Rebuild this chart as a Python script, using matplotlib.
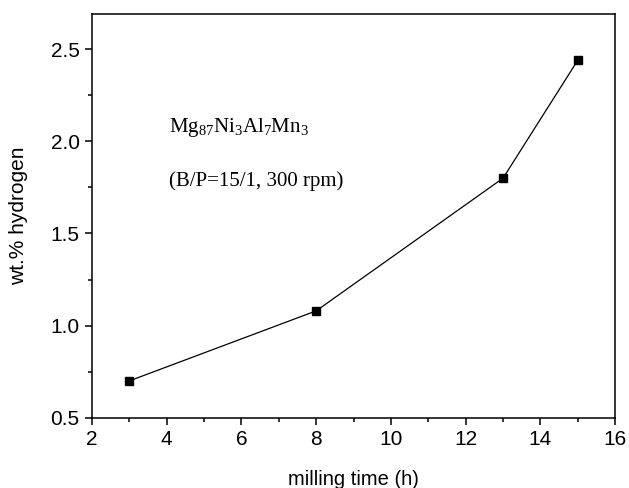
import matplotlib
matplotlib.use("Agg")
import matplotlib.pyplot as plt
from matplotlib.ticker import MultipleLocator

milling_time = [3, 8, 13, 15]
wt_hydrogen = [0.70, 1.08, 1.80, 2.44]

plt.rcParams['font.family'] = ['Liberation Sans', 'DejaVu Sans']
plt.rcParams['mathtext.fontset'] = 'custom'
plt.rcParams['mathtext.rm'] = 'Liberation Serif'

fig = plt.figure(figsize=(6.29, 4.88), dpi=100)
ax = fig.add_axes([0.1463, 0.144, 0.8317, 0.827])

ax.plot(milling_time, wt_hydrogen, color='black', lw=0.9, marker='s', ms=6,
        mfc='black', mec='black')

ax.set_xlim(2, 16)
ax.set_ylim(0.5, 2.69)
ax.xaxis.set_major_locator(MultipleLocator(2))
ax.xaxis.set_minor_locator(MultipleLocator(1))
ax.yaxis.set_major_locator(MultipleLocator(0.5))
ax.yaxis.set_minor_locator(MultipleLocator(0.25))
ax.set_yticks([0.5, 1.0, 1.5, 2.0, 2.5])
ax.set_yticklabels(['0.5', '1.0', '1.5', '2.0', '2.5'])

ax.tick_params(which='both', direction='out', width=1.1, top=False, right=False, labelsize=15)
ax.tick_params(which='major', length=5, pad=4)
ax.tick_params(which='minor', length=3)
for s in ax.spines.values():
    s.set_linewidth(1.1)

ax.set_xlabel('milling time (h)', fontsize=14.5, labelpad=15)
ax.set_ylabel('wt.% hydrogen', fontsize=15, labelpad=16)

ax.text(0.147, 0.708, r'$\mathrm{Mg_{87}Ni_{3}Al_{7}Mn_{3}}$', transform=ax.transAxes,
        fontsize=15, ha='left', va='baseline')
ax.text(0.147, 0.574, '(B/P=15/1, 300 rpm)', transform=ax.transAxes,
        fontsize=15, ha='left', va='baseline', family='Liberation Serif')

fig.savefig('out.png', dpi=100)
